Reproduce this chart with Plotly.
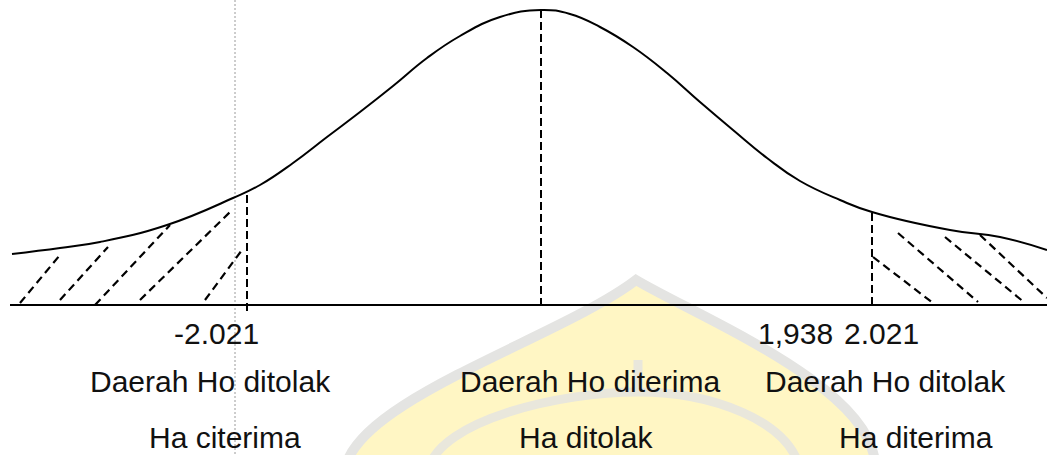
import plotly.graph_objects as go

# ---------------- data (drawing units: x = horizontal position, h = height above baseline) -------------
BASE_PX = 305  # pixel row of the baseline in the drawing

curve_x = [12, 60, 100, 167, 233, 260, 293, 327, 360, 393, 427, 460, 500, 541, 570, 600, 633, 667, 700, 733, 767, 800, 840, 872, 950, 1000, 1047]
curve_py = [254, 248, 242, 225, 198, 185, 163, 137, 112, 86, 58, 36, 17, 10, 14, 27, 47, 73, 102, 130, 158, 181, 200, 212, 230, 237, 250]

# hatch strokes in the rejection tails: (x0, y0, x1, y1) in pixel rows
left_hatch = [(20, 303, 60, 255), (60, 300, 108, 247), (95, 305, 170, 225), (140, 300, 230, 212), (205, 300, 242, 250)]
right_hatch = [(873, 257, 933, 303), (898, 233, 978, 302), (945, 237, 1025, 303), (980, 235, 1047, 298)]

# critical / centre dashed verticals: (x, top row, bottom row)
crit_lines = [(247, 195, 315), (541, 10, 305), (872, 213, 305)]

tick_labels = ["-2.021", "1,938", "2.021"]
tick_x = [216, 795, 881]
region_top = ["Daerah Ho ditolak", "Daerah Ho diterima", "Daerah Ho ditolak"]
region_bottom = ["Ha citerima", "Ha ditolak", "Ha diterima"]
region_top_x = [210, 590, 885]
region_bottom_x = [225, 586, 916]


def h(py):
    return BASE_PX - py


fig = go.Figure()

# watermark (faint lotus dome) drawn below everything
def P(x, py):
    return f"{x},{h(py)}"

dome_fill = (f"M {P(350,470)} C {P(360,400)} {P(560,340)} {P(636,280)} "
             f"C {P(700,320)} {P(880,390)} {P(875,470)} Z")
dome_outer = (f"M {P(345,470)} C {P(355,400)} {P(560,338)} {P(636,280)} "
              f"C {P(700,318)} {P(880,390)} {P(875,470)}")
petal_l = f"M {P(428,470)} C {P(440,420)} {P(560,392)} {P(638,392)}"
petal_r = f"M {P(800,470)} C {P(790,420)} {P(710,392)} {P(638,392)}"
shapes = [
    dict(type="path", path=dome_fill, xref="x", yref="y", fillcolor="#FFF6C4",
         line=dict(color="#FFF6C4", width=0), layer="below"),
    dict(type="path", path=dome_outer, xref="x", yref="y",
         line=dict(color="#E4E4E2", width=10), layer="below"),
    dict(type="path", path=petal_l, xref="x", yref="y",
         line=dict(color="#E9E7DC", width=9), layer="below"),
    dict(type="path", path=petal_r, xref="x", yref="y",
         line=dict(color="#E9E7DC", width=9), layer="below"),
    dict(type="line", x0=638, x1=638, y0=h(360), y1=h(392), xref="x", yref="y",
         line=dict(color="#E9E7DC", width=9), layer="below"),
]

# scan artefact: thin dotted vertical
fig.add_trace(go.Scatter(x=[235, 235], y=[h(0), h(455)], mode="lines",
                         line=dict(color="#9a9a9a", width=1, dash="2px,2px"),
                         hoverinfo="skip", showlegend=False))

# baseline
fig.add_trace(go.Scatter(x=[10, 1047], y=[0, 0], mode="lines",
                         line=dict(color="black", width=2), hoverinfo="skip", showlegend=False))

# hatch strokes
for (x0, y0, x1, y1) in left_hatch + right_hatch:
    fig.add_trace(go.Scatter(x=[x0, x1], y=[h(y0), h(y1)], mode="lines",
                             line=dict(color="black", width=2.2, dash="8px,5px"),
                             hoverinfo="skip", showlegend=False))

# dashed verticals
for (x, t, b) in crit_lines:
    fig.add_trace(go.Scatter(x=[x, x], y=[h(t), h(b)], mode="lines",
                             line=dict(color="black", width=2, dash="8px,4px"),
                             hoverinfo="skip", showlegend=False))

# the bell curve
fig.add_trace(go.Scatter(x=curve_x, y=[h(v) for v in curve_py], mode="lines",
                         line=dict(color="black", width=2, shape="spline", smoothing=1.3),
                         hoverinfo="skip", showlegend=False))

font = dict(family="Liberation Sans, Arial, sans-serif", size=30, color="#111111")
ann = []
for lab, x in zip(tick_labels, tick_x):
    ann.append(dict(x=x, y=h(333), text=lab, showarrow=False, xanchor="center", yanchor="middle", font=font))
for lab, x in zip(region_top, region_top_x):
    ann.append(dict(x=x, y=h(381), text=lab, showarrow=False, xanchor="center", yanchor="middle", font=font))
for lab, x in zip(region_bottom, region_bottom_x):
    ann.append(dict(x=x, y=h(437), text=lab, showarrow=False, xanchor="center", yanchor="middle", font=font))

fig.update_layout(
    width=1047, height=455, margin=dict(l=0, r=0, t=0, b=0),
    paper_bgcolor="white", plot_bgcolor="white",
    xaxis=dict(range=[0, 1047], visible=False, fixedrange=True),
    yaxis=dict(range=[h(455), h(0)], visible=False, fixedrange=True),
    shapes=shapes, annotations=ann, showlegend=False,
)

fig.write_html("out.html", config={"displayModeBar": False},
               post_script="document.body.style.margin='0';document.body.style.overflow='hidden';")
